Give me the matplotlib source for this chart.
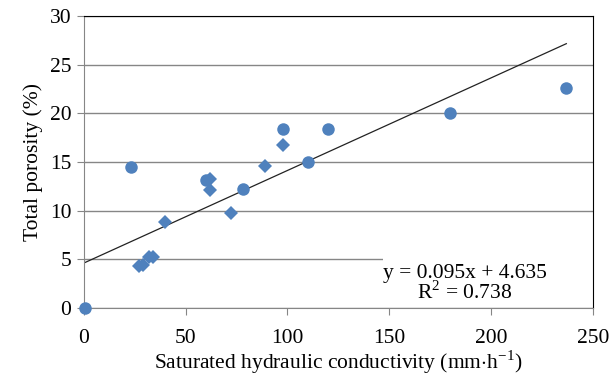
import matplotlib
matplotlib.use('Agg')
import matplotlib.pyplot as plt
from matplotlib.patches import Rectangle
import numpy as np

# circles (first series)
circ_x = [0.5, 23, 60, 78, 98, 110, 120, 180, 237]
circ_y = [0.0, 14.5, 13.2, 12.2, 18.4, 15.0, 18.4, 20.0, 22.6]
# diamonds (second series)
diam_x = [27, 29, 32, 34, 40, 62, 62, 72, 89, 98]
diam_y = [4.3, 4.4, 5.2, 5.2, 8.8, 13.3, 12.1, 9.8, 14.6, 16.7]

slope = 0.095
intercept = 4.635
fit_x = [0, 237]

blue = '#4F81BD'
gray = '#868686'

plt.rcParams['font.family'] = ['Liberation Serif', 'DejaVu Serif']
plt.rcParams['mathtext.fontset'] = 'custom'
plt.rcParams['mathtext.rm'] = 'Liberation Serif'

fig = plt.figure(figsize=(6.13, 3.79), dpi=100)
ax = fig.add_axes([0.137, 0.187, 0.830, 0.771])

ax.set_xlim(0, 250)
ax.set_ylim(0, 30)
ax.set_xticks(range(0, 251, 50))
ax.set_yticks(range(0, 31, 5))
ax.yaxis.grid(True, color=gray, linewidth=1.0)
ax.set_axisbelow(True)

fx = np.array(fit_x)
ax.plot(fx, slope * fx + intercept, color='#222222', linewidth=0.9, zorder=2)
ax.plot(diam_x, diam_y, 'D', color=blue, markersize=7, markeredgewidth=0, zorder=3, clip_on=False)
ax.plot(circ_x, circ_y, 'o', color=blue, markersize=9, markeredgewidth=0, zorder=3, clip_on=False)

for s in ['left', 'bottom']:
    ax.spines[s].set_color(gray)
for s in ['top', 'right']:
    ax.spines[s].set_color('black')
ax.tick_params(direction='out', length=5, color=gray, labelsize=15.5, pad=4)
ax.tick_params(axis='x', pad=10)

ax.set_xlabel('Saturated hydraulic conductivity (mm$\\cdot$h$^{-1}$)', fontsize=15.5, labelpad=0)
ax.set_ylabel('Total porosity (%)', fontsize=15.5, labelpad=5)

# label box of the trendline (white, hides the grid behind it)
ax.add_patch(Rectangle((147, 0.8), 103, 5.0, facecolor='white', edgecolor='none', zorder=1.5))
ax.text(187, 2.45, 'y = 0.095x + 4.635\nR$^2$ = 0.738', ha='center', va='center',
        fontsize=15.5, linespacing=0.9, zorder=4)

fig.savefig('out.png', dpi=100)
